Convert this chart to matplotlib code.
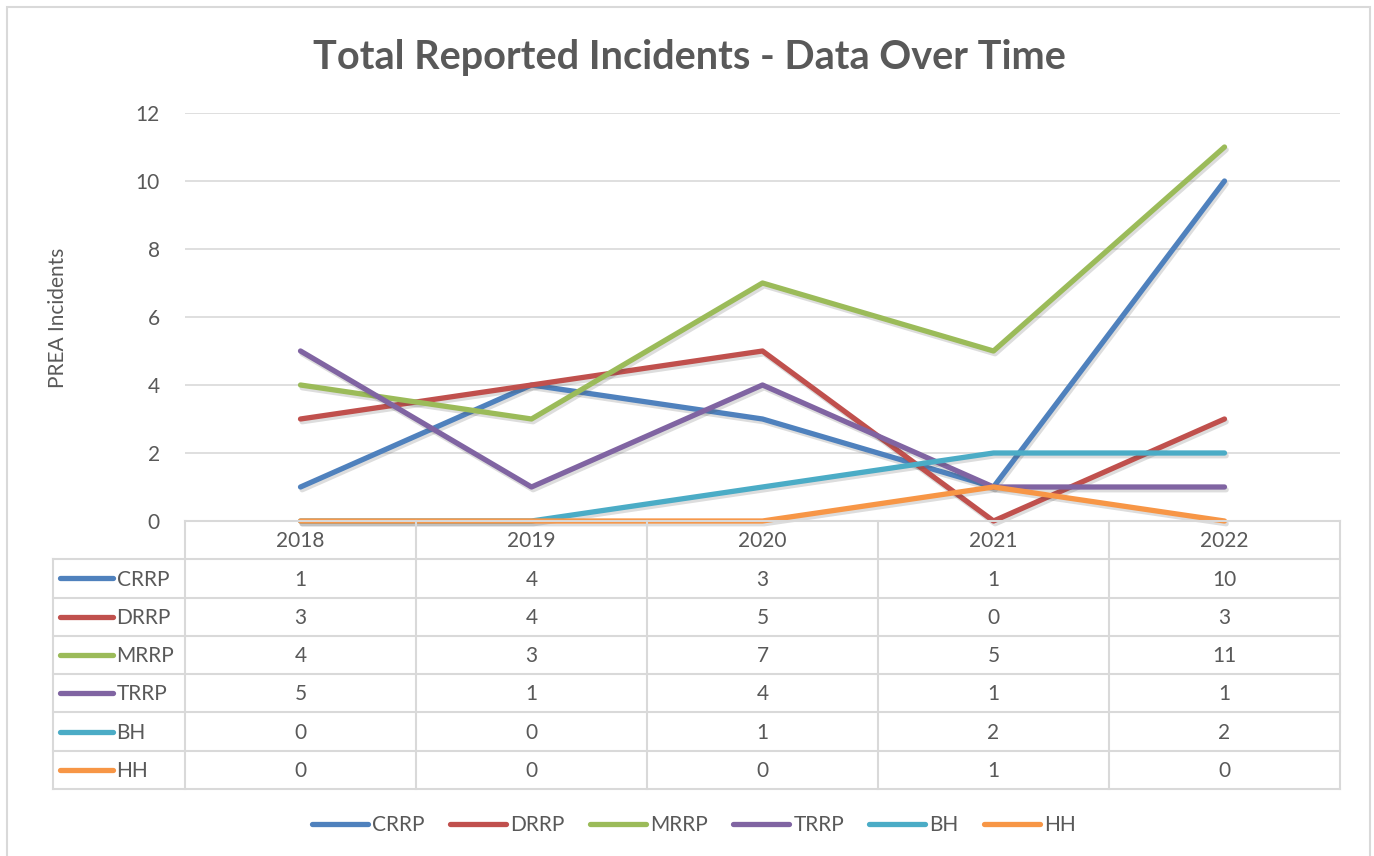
import numpy as np
import matplotlib.pyplot as plt
import matplotlib.patheffects as pe
from matplotlib.lines import Line2D

plt.rcParams['font.family'] = ['Lato', 'DejaVu Sans']

years = ['2018', '2019', '2020', '2021', '2022']
series = ['CRRP', 'DRRP', 'MRRP', 'TRRP', 'BH', 'HH']
crrp = [1, 4, 3, 1, 10]
drrp = [3, 4, 5, 0, 3]
mrrp = [4, 3, 7, 5, 11]
trrp = [5, 1, 4, 1, 1]
bh = [0, 0, 1, 2, 2]
hh = [0, 0, 0, 1, 0]
values = [crrp, drrp, mrrp, trrp, bh, hh]
colors = ['#4f81bd', '#c0504d', '#9bbb59', '#8064a2', '#4bacc6', '#f79646']

W, H = 1374, 856
fig = plt.figure(figsize=(W / 100, H / 100), dpi=100)
text_c = '#595959'
grid_c = '#d9d9d9'
fs = 15

# outer chart border
fig.patches.append(plt.Rectangle((7 / W, -0.01), (1370 - 7) / W, 1 - 7 / H + 0.01,
                                 transform=fig.transFigure, fill=False,
                                 ec=grid_c, lw=1.5))

def fx(px):
    return px / W

def fy(py):
    return 1 - py / H

# plot area
x0, x1 = 185, 1340
ytop, ybot = 113, 521
ax = fig.add_axes([fx(x0), fy(ybot), fx(x1 - x0), (ybot - ytop) / H])
x = np.arange(len(years))
shadow = [pe.SimpleLineShadow(offset=(1.2, -2.0), alpha=0.18, shadow_color='#444444'), pe.Normal()]
for name, vals, c in zip(series, values, colors):
    ax.plot(x, vals, color=c, lw=3.8, solid_capstyle='round', solid_joinstyle='round',
            clip_on=False, zorder=3, path_effects=shadow)
ax.set_xlim(-0.5, len(years) - 0.5)
ax.set_ylim(0, 12)
ax.set_yticks(np.arange(0, 13, 2))
ax.set_xticks([])
ax.grid(axis='y', color=grid_c, lw=1.2)
ax.set_axisbelow(True)
for s in ax.spines.values():
    s.set_visible(False)
ax.tick_params(axis='y', length=0, pad=18, labelsize=fs, labelcolor=text_c)
ax.set_facecolor('none')

fig.text(fx(58), fy(318), 'PREA Incidents', rotation=90, ha='center', va='center',
         fontsize=fs, color=text_c)
fig.text(fx(689), fy(57), 'Total Reported Incidents - Data Over Time', ha='center',
         va='center', fontsize=28.5, fontweight='bold', color=text_c)

# data table
tl, tb = 53, 789
leg_w = (x0 - tl) / ((x1 - x0) / len(years))
tax = fig.add_axes([fx(tl), fy(tb), fx(x1 - tl), (tb - ybot) / H])
tax.set_xlim(-0.5 - leg_w, len(years) - 0.5)
tax.set_ylim(len(series) + 1, 0)
tax.axis('off')
left = -0.5 - leg_w
right = len(years) - 0.5
lw_t = 1.5
# header row
tax.plot([-0.5, right], [0, 0], color=grid_c, lw=lw_t, clip_on=False)
for r in range(1, len(series) + 2):
    tax.plot([left, right], [r, r], color=grid_c, lw=lw_t, clip_on=False)
tax.plot([left, left], [1, len(series) + 1], color=grid_c, lw=lw_t, clip_on=False)
for i in range(len(years) + 1):
    tax.plot([i - 0.5, i - 0.5], [0, len(series) + 1], color=grid_c, lw=lw_t, clip_on=False)
for i, yr in enumerate(years):
    tax.text(i, 0.52, yr, ha='center', va='center', fontsize=fs, color=text_c)
for r, (name, vals, c) in enumerate(zip(series, values, colors)):
    yy = r + 1.5
    tax.plot([left + 0.03, left + 0.26], [yy, yy], color=c, lw=3.8, solid_capstyle='round')
    tax.text(left + 0.275, yy + 0.03, name, ha='left', va='center', fontsize=fs, color=text_c)
    for i, v in enumerate(vals):
        tax.text(i, yy + 0.03, str(v), ha='center', va='center', fontsize=fs, color=text_c)

handles = [Line2D([], [], color=c, lw=3.8, solid_capstyle='round') for c in colors]
fig.legend(handles, series, loc='center', bbox_to_anchor=(fx(694), fy(825)), ncol=6,
           frameon=False, fontsize=fs, labelcolor=text_c, handlelength=2.7,
           handletextpad=0.2, columnspacing=1.2)

fig.savefig('out.png', dpi=100, facecolor='white')
